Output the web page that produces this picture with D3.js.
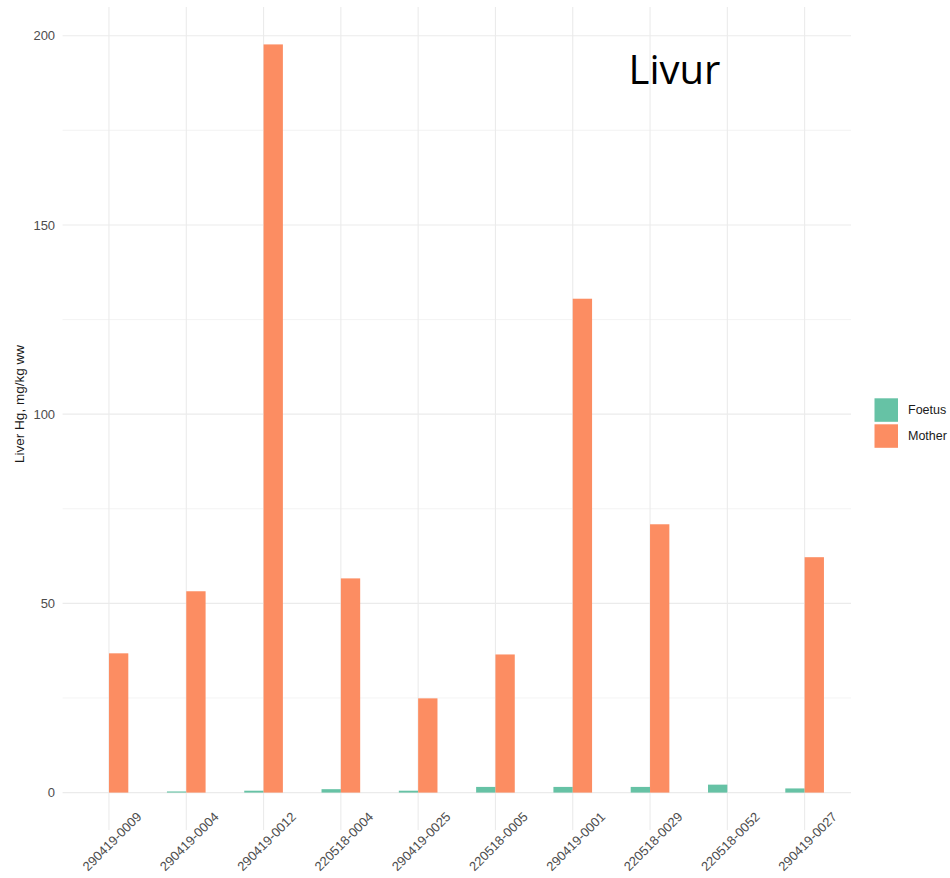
<!DOCTYPE html>
<html><head><meta charset="utf-8">
<script src="https://cdn.jsdelivr.net/npm/d3@7"></script>
<style>body{margin:0;background:#fff}svg{display:block}</style>
</head><body>
<script>
const categories = ["290419-0009","290419-0004","290419-0012","220518-0004","290419-0025","220518-0005","290419-0001","220518-0029","220518-0052","290419-0027"];
const foetus = [null, 0.3, 0.5, 0.9, 0.5, 1.5, 1.5, 1.5, 2.1, 1.1];
const mother = [36.8, 53.2, 197.7, 56.6, 24.9, 36.5, 130.5, 70.9, null, 62.2];
const seriesNames = ["Foetus","Mother"];
const seriesColors = ["#66c2a5","#fc8d62"];
const yTicks = [0, 50, 100, 150, 200];
const yMinor = [25, 75, 125, 175];

const W = 950, H = 878;
const svg = d3.select("body").append("svg").attr("width", W).attr("height", H);
const P = {l: 62.6, r: 851, t: 7, b: 830};

const allVals = foetus.concat(mother).filter(v => v != null);
const vmax = d3.max(allVals), vmin = 0;
const pad = (vmax - vmin) * 0.05;
const y = d3.scaleLinear().domain([vmin - pad, vmax + pad]).range([P.b, P.t]);
const x = d3.scalePoint().domain(categories).range([P.l, P.r]).padding(0.6);
const step = x.step();

const g = svg.append("g");
// minor grid
g.selectAll(".ymin").data(yMinor).join("line")
  .attr("x1", P.l).attr("x2", P.r).attr("y1", d => y(d)).attr("y2", d => y(d))
  .attr("stroke", "#f0f0f0").attr("stroke-width", 0.8);
// major grid
g.selectAll(".ymaj").data(yTicks).join("line")
  .attr("x1", P.l).attr("x2", P.r).attr("y1", d => y(d)).attr("y2", d => y(d))
  .attr("stroke", "#ebebeb").attr("stroke-width", 1.1);
g.selectAll(".xmaj").data(categories).join("line")
  .attr("x1", d => x(d)).attr("x2", d => x(d)).attr("y1", P.t).attr("y2", P.b)
  .attr("stroke", "#ebebeb").attr("stroke-width", 1.1);

// bars
const bw = step * 0.25;
const series = [foetus, mother];
series.forEach((vals, si) => {
  g.selectAll(".bar" + si).data(categories.map((c, i) => ({c, v: vals[i]})).filter(d => d.v != null))
    .join("rect")
    .attr("x", d => x(d.c) - bw + si * bw)
    .attr("width", bw)
    .attr("y", d => y(d.v))
    .attr("height", d => y(0) - y(d.v))
    .attr("fill", seriesColors[si]);
});

// y tick labels
const yAxis = d3.axisLeft(y).tickValues(yTicks).tickSize(0).tickPadding(0);
const ya = svg.append("g").attr("transform", `translate(${P.l - 7.5},0)`).call(yAxis);
ya.select(".domain").remove();
ya.selectAll("text").attr("font-family", "Liberation Sans, Arial, sans-serif")
  .attr("font-size", 13).attr("fill", "#4d4d4d");

// x tick labels (rotated 45)
svg.selectAll(".xl").data(categories).join("text")
  .attr("transform", d => `translate(${x(d) + 3},${841.5}) rotate(-45)`)
  .attr("text-anchor", "middle").attr("dominant-baseline", "central")
  .attr("font-family", "Liberation Sans, Arial, sans-serif")
  .attr("font-size", 13).attr("fill", "#4d4d4d").text(d => d);

// y title
svg.append("text")
  .attr("transform", `translate(24,404) rotate(-90)`)
  .attr("text-anchor", "middle")
  .attr("font-family", "Liberation Sans, Arial, sans-serif")
  .attr("font-size", 13.5).attr("fill", "#1a1a1a").text("Liver Hg, mg/kg ww");

// annotation
svg.append("text").attr("x", 628.5).attr("y", 84)
  .attr("font-family", "Open Sans, sans-serif").attr("font-size", 40)
  .attr("fill", "#000").text("Livur");

// legend
const lg = svg.append("g");
seriesNames.forEach((n, i) => {
  lg.append("rect").attr("x", 874.5).attr("y", 398.3 + i * 26).attr("width", 23.5).attr("height", 23.5)
    .attr("fill", seriesColors[i]);
  lg.append("text").attr("x", 908).attr("y", 398.3 + i * 26 + 11.75)
    .attr("dominant-baseline", "central")
    .attr("font-family", "Liberation Sans, Arial, sans-serif").attr("font-size", 12.5)
    .attr("fill", "#1a1a1a").text(n);
});
</script>
</body></html>
